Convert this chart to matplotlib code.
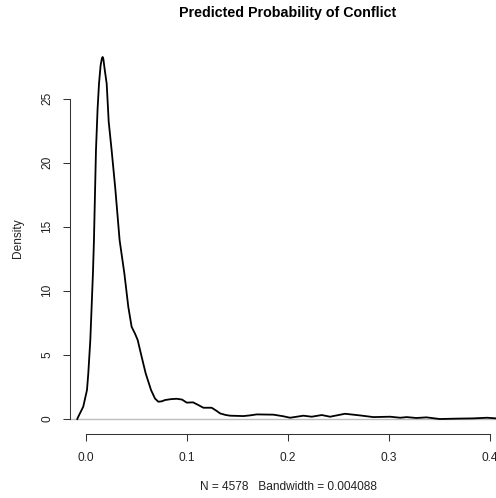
import matplotlib
matplotlib.use("Agg")
import matplotlib.pyplot as plt

# density curve
x_vals = [-0.0086, -0.0076, -0.0027, 0.0010, 0.0023, 0.0043, 0.0056, 0.0069, 0.0079,
          0.0099, 0.0115, 0.0129, 0.0145, 0.0158, 0.0165, 0.0172, 0.0185, 0.0205,
          0.0225, 0.0254, 0.0290, 0.0333, 0.0380, 0.0419, 0.0452, 0.0485, 0.0512,
          0.0551, 0.0591, 0.0644, 0.0683, 0.0716, 0.0750, 0.0782, 0.0840, 0.0898,
          0.0950, 0.0997, 0.1060, 0.1110, 0.1162, 0.1244, 0.1290, 0.1327, 0.1380,
          0.1426, 0.1558, 0.1620, 0.1690, 0.1855, 0.1950, 0.2020, 0.2152, 0.2234,
          0.2334, 0.2416, 0.2564, 0.2713, 0.2845, 0.3010, 0.3110, 0.3175, 0.3270,
          0.3370, 0.3500, 0.3670, 0.3830, 0.3970, 0.4060, 0.4200]
y_vals = [0.0, 0.18, 0.96, 2.26, 3.56, 6.16, 8.75, 11.36, 13.95,
          20.97, 24.2, 26.17, 27.6, 28.15, 28.25, 28.1, 27.3, 26.17,
          23.2, 20.97, 18.0, 13.95, 11.36, 8.75, 7.19, 6.67, 6.16,
          4.86, 3.56, 2.26, 1.6, 1.35, 1.38, 1.48, 1.55, 1.58,
          1.52, 1.28, 1.30, 1.10, 0.88, 0.88, 0.65, 0.44, 0.32,
          0.26, 0.23, 0.28, 0.36, 0.34, 0.22, 0.10, 0.26, 0.18,
          0.31, 0.18, 0.41, 0.28, 0.15, 0.18, 0.10, 0.15, 0.08,
          0.13, 0.0, 0.03, 0.05, 0.10, 0.05, 0.05]

x_ticks = [0.0, 0.1, 0.2, 0.3, 0.4]
x_tick_labels = ["0.0", "0.1", "0.2", "0.3", "0.4"]
y_ticks = [0, 5, 10, 15, 20, 25]
y_tick_labels = ["0", "5", "10", "15", "20", "25"]

title = "Predicted Probability of Conflict"
x_label = "N = 4578   Bandwidth = 0.004088"
y_label = "Density"

plt.rcParams['font.family'] = ['Liberation Sans', 'DejaVu Sans']

W, H = 496, 498
fig = plt.figure(figsize=(W / 100, H / 100), dpi=100)
left_px, right_px = 69.8, 506.3
top_px, bottom_px = 42.0, 433.5
ax = fig.add_axes([left_px / W, 1 - bottom_px / H,
                   (right_px - left_px) / W, (bottom_px - top_px) / H])
ax.set_xlim(-0.016, 0.416)
ax.set_ylim(-1.13, 29.42)

ax.axhline(0, color="#BEBEBE", lw=1.0, zorder=1)
ax.plot(x_vals, y_vals, color="black", lw=1.3, zorder=2, clip_on=True,
        solid_joinstyle="round")

for s in ["top", "right"]:
    ax.spines[s].set_visible(False)
ax.spines["left"].set_bounds(0, 25)
ax.spines["bottom"].set_bounds(0.0, 0.4)
for s in ["left", "bottom"]:
    ax.spines[s].set_linewidth(0.75)
    ax.spines[s].set_color("#333333")

ax.set_xticks(x_ticks)
ax.set_xticklabels(x_tick_labels)
ax.set_yticks(y_ticks)
ax.set_yticklabels(y_tick_labels, rotation=90, va="center")
ax.tick_params(axis="both", length=5, width=0.75, color="#333333",
               labelsize=8.6, labelcolor="#222222")
ax.tick_params(axis="x", pad=8)
ax.tick_params(axis="y", pad=7)

fig.text(288 / W, 1 - 12.5 / H, title, ha="center", va="center",
         fontsize=10.3, fontweight="bold")
fig.text(288 / W, 1 - 487 / H, x_label, ha="center", va="center", fontsize=8.6,
         color="#222222")
fig.text(18 / W, 1 - 238 / H, y_label, ha="center", va="center", fontsize=8.6,
         rotation=90, color="#222222")

fig.savefig("out.png", dpi=100)
